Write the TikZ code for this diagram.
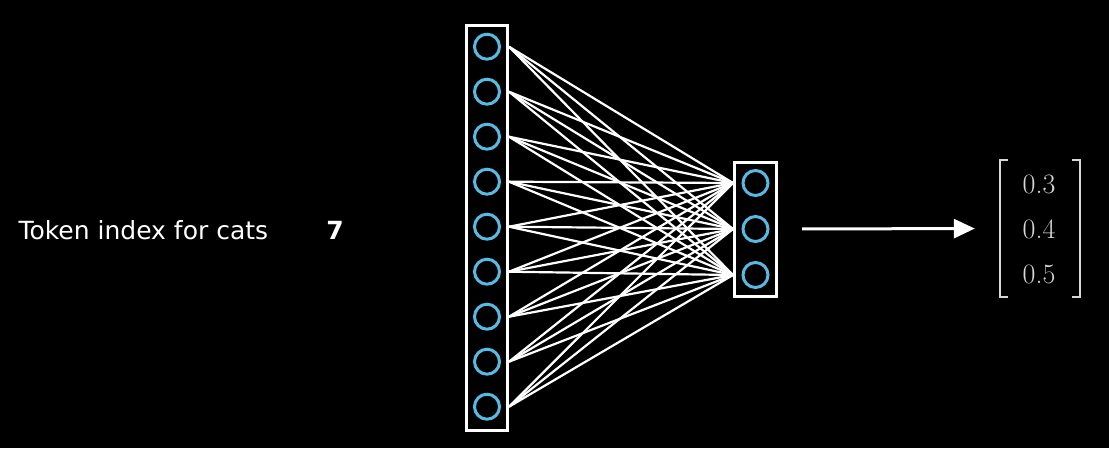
\documentclass[tikz,border=0pt]{standalone}
\usepackage{fontspec}
\setsansfont{DejaVu Sans}
\usetikzlibrary{arrows.meta,calc}
\definecolor{nnblue}{RGB}{88,186,226}
\definecolor{vecgray}{RGB}{215,215,215}

\begin{document}
\begin{tikzpicture}[x=1pt,y=-1pt,>/.tip={Triangle[length=21pt,width=19pt]},
    neuron/.style={circle,draw=nnblue,line width=3pt,minimum size=25pt,inner sep=0pt},
    layerbox/.style={draw=white,line width=3pt,inner sep=0pt},
    link/.style={white,line width=2.2pt}]
    % background and page size
    \fill[black] (0,0) rectangle (1109,448);
    % The two layers
    \node[layerbox,minimum width=41pt,minimum height=405pt] (inbox) at (487,227.5) {};
    \node[layerbox,minimum width=42pt,minimum height=134pt] (outbox) at (755.5,229) {};
    \foreach \i in {1,...,9}
      \node[neuron] (in\i) at (487,1.7+45*\i) {};
    \foreach \j in {1,2,3}
      \node[neuron] (out\j) at (755.5,137+46*\j) {};
    % The weights
    \foreach \i in {1,...,9}
      \foreach \j in {1,2,3}
        \draw[link] (inbox.east |- in\i) -- (outbox.west |- out\j);
    % The input token
    \node[anchor=west,text=white,font=\sffamily\fontsize{25}{30}\selectfont] (label) at (15,230) {Token index for cats};
    \node[text=white,font=\sffamily\bfseries\fontsize{25}{30}\selectfont] (idx) at (335,230) {7};
    % The output vector
    \node[minimum width=80pt,minimum height=137pt,inner sep=0pt] (vec) at (1040,228.5) {};
    \draw[vecgray,line width=1.8pt] ($(vec.north west)+(8,0)$) -| (vec.south west) -- ++(8,0);
    \draw[vecgray,line width=1.8pt] ($(vec.north east)+(-8,0)$) -| (vec.south east) -- ++(-8,0);
    \foreach \v/\k in {0.3/1,0.4/2,0.5/3}
      \node[text=vecgray,font=\rmfamily\fontsize{28}{33}\selectfont] (val\k) at (1039,139+45*\k) {\v};
    \draw[->,white,line width=3pt,shorten <=24pt,shorten >=25pt] (outbox.east) -- (vec.west);
  \end{tikzpicture}
\end{document}
